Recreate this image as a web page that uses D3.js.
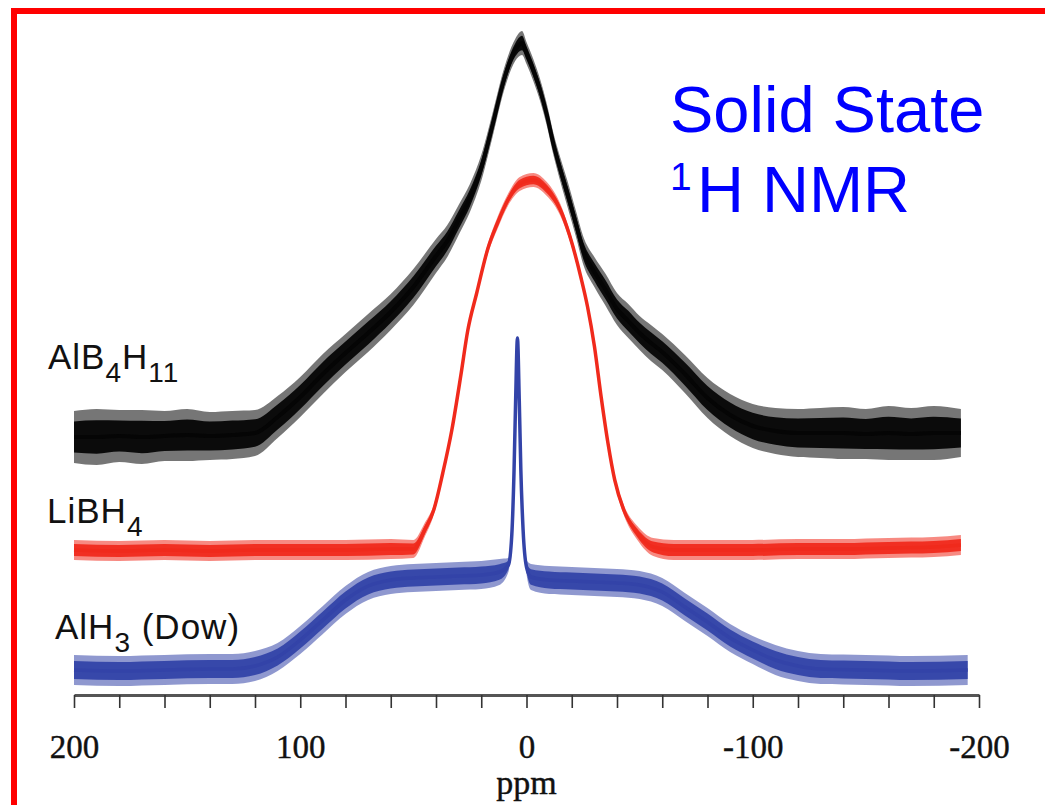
<!DOCTYPE html>
<html><head><meta charset="utf-8">
<script src="https://cdn.jsdelivr.net/npm/d3@7"></script>
<style>html,body{margin:0;padding:0;background:#fff;overflow:hidden}</style>
</head><body>
<svg id="chart" width="1045" height="805"></svg>
<script>
// ---------------- DATA ----------------
// chemical shift (ppm) grid points, intensity (stacked height above axis, a.u.), noise extent half-width (a.u.)
const seriesNames = ["AlB4H11", "LiBH4", "AlH3 (Dow)"];

const alb4h11Ppm = [200,190,180,170,160,150,140,130,120,110,100,90,80,70,60,50,40,35,30,25,20,15,10,5,2,0,-3,-6,-9,-12,-15,-18,-22,-25,-30,-35,-40,-45,-50,-55,-60,-70,-80,-90,-100,-110,-120,-130,-140,-150,-160,-170,-180,-192];
const alb4h11Int = [258,258,259,258,259,260,259,260,262,278,298,321,342,362,383,408,439,454,475,497,527,570,615,645,652,642,625,605,580,550,525,502,470,445,423,405,386,374,362,352,343,321,297,280,269,264,262,262,262,261,262,261,262,262];
const alb4h11Noise = [26,28,26,27,25,26,24,24,23,21,20,20,19,19,18,18,17,16,15,14,13,12,11,11,12,11,11,11,11,11,12,13,13,14,15,16,16,17,17,18,18,19,20,21,22,23,24,25,26,25,27,26,27,24];

const libh4Ppm = [200,180,160,140,120,100,80,60,50,45,41,37,33,29,26,22,17,13,8,3,-3,-9,-15,-19,-24,-27,-30,-33,-36,-39,-43,-49,-56,-65,-80,-100,-120,-140,-160,-180,-192];
const libh4Int = [145,144,145,144,145,145,145,146,146,165,185,222,265,320,364,402,447,471,496,511,515,506,485,460,418,388,349,298,252,215,185,162,148,145,145,145,146,146,147,148,150];
const libh4Noise = [10,10,10,10,10,10,10,10,9,7,5,4,4,4,4,4,5,6,6,7,7,7,6,5,4,4,4,4,4,4,5,7,9,10,10,10,10,10,10,10,10];

const alh3Ppm = [200,180,160,140,130,120,110,100,90,80,70,60,50,40,30,20,12,8,6.5,5.5,4.8,4,3.2,2.5,1.5,0,-2,-10,-20,-30,-40,-50,-60,-70,-80,-90,-100,-110,-120,-130,-150,-170,-195];
const alh3Int = [25,24,25,26,26,29,38,55,75,95,109,115,117,118,119,120,123,130,160,225,295,357,295,225,165,128,118,115,114,113,112,110,103,88,73,57,45,35,29,26,25,24,25];
const alh3Noise = [15,15,15,15,15,15,14,14,14,14,14,14,14,14,14,14,13,7,3,2,2,2,2,2,3,7,13,14,14,14,14,14,14,14,14,14,14,15,15,15,15,15,15];

const xDomain = [200, -200];
const xTickValues = [200,180,160,140,120,100,80,60,40,20,0,-20,-40,-60,-80,-100,-120,-140,-160,-180,-200];
const xTickLabels = {"200":"200","100":"100","0":"0","-100":"-100","-200":"-200"};
const xAxisTitle = "ppm";
const titleLine1 = "Solid State";
const titleSup = "1";
const titleLine2 = "H NMR";

// ---------------- LAYOUT ----------------
const svg = d3.select("#chart");
const W = 1045, H = 805;
const plot = {left: 74, right: 979, axisY: 695, top: 35};

const x = d3.scaleLinear().domain(xDomain).range([plot.left, plot.right]);
const y = d3.scaleLinear().domain([0, 660]).range([plot.axisY, plot.top]);

svg.append("rect").attr("width", W).attr("height", H).attr("fill", "#fff");

// red frame
svg.append("rect").attr("x", 14).attr("y", 11).attr("width", 1200).attr("height", 1000)
  .attr("fill", "none").attr("stroke", "#ff0000").attr("stroke-width", 6);

function series(ppm, inten, noise) {
  return ppm.map((p, i) => ({p, v: inten[i], n: noise[i]}));
}
const data = [
  {key: seriesNames[0], vals: series(alb4h11Ppm, alb4h11Int, alb4h11Noise), color: "#050505", lw: 4},
  {key: seriesNames[1], vals: series(libh4Ppm, libh4Int, libh4Noise), color: "#f02a1c", lw: 3.5},
  {key: seriesNames[2], vals: series(alh3Ppm, alh3Int, alh3Noise), color: "#3343a8", lw: 3.5}
];

const outer = d3.area().x(d => x(d.p)).y0(d => y(d.v - d.n)).y1(d => y(d.v + d.n)).curve(d3.curveMonotoneX);
const inner = d3.area().x(d => x(d.p)).y0(d => y(d.v - 0.6 * d.n)).y1(d => y(d.v + 0.6 * d.n)).curve(d3.curveMonotoneX);
const line = d3.line().x(d => x(d.p)).y(d => y(d.v)).curve(d3.curveMonotoneX);

const order = [2, 1, 0];
order.forEach(i => {
  const s = data[i];
  const vals = s.vals.slice().sort((a, b) => b.p - a.p);
  svg.append("path").datum(vals).attr("d", outer).attr("fill", s.color).attr("opacity", 0.55);
  svg.append("path").datum(vals).attr("d", inner).attr("fill", s.color).attr("opacity", 0.95);
  svg.append("path").datum(vals).attr("d", line).attr("fill", "none")
    .attr("stroke", s.color).attr("stroke-width", s.lw).attr("stroke-linejoin", "round");
});

// axis
const axis = d3.axisBottom(x).tickValues(xTickValues).tickSize(13).tickSizeOuter(0).tickPadding(27)
  .tickFormat(d => xTickLabels[String(d)] || "");
const gAx = svg.append("g").attr("transform", `translate(0,${plot.axisY})`).call(axis);
gAx.select(".domain").attr("stroke", "#555").attr("stroke-width", 3);
gAx.selectAll(".tick line").attr("stroke", "#333").attr("stroke-width", 1.6);
gAx.selectAll(".tick text").attr("font-family", "'Liberation Serif', 'Times New Roman', serif")
  .attr("font-size", 33).attr("fill", "#111").attr("stroke", "#111").attr("stroke-width", 0.4);

svg.append("text").attr("x", (plot.left + plot.right) / 2).attr("y", 794).attr("text-anchor", "middle")
  .attr("font-family", "'Liberation Serif', 'Times New Roman', serif").attr("font-size", 34).attr("fill", "#111")
  .attr("stroke", "#111").attr("stroke-width", 0.4)
  .text(xAxisTitle);

// series labels
const sans = "'Liberation Sans', Arial, Helvetica, sans-serif";
function label(xp, yp, parts) {
  const t = svg.append("text").attr("x", xp).attr("y", yp).attr("font-family", sans)
    .attr("font-size", 35).attr("fill", "#111").attr("letter-spacing", 1);
  let shift = 0;
  parts.forEach(([txt, sub]) => {
    const want = sub ? 13 : 0;
    t.append("tspan").attr("dy", want - shift).attr("font-size", sub ? 28 : 35).text(txt);
    shift = want;
  });
}
label(48, 369, [["AlB", 0], ["4", 1], ["H", 0], ["11", 1]]);
label(47, 523, [["LiBH", 0], ["4", 1]]);
label(55, 639, [["AlH", 0], ["3", 1], [" (Dow)", 0]]);

// title
svg.append("text").attr("x", 670).attr("y", 132).attr("font-family", sans).attr("font-size", 65)
  .attr("fill", "#0000ff").text(titleLine1);
svg.append("text").attr("x", 670).attr("y", 190).attr("font-family", sans).attr("font-size", 39)
  .attr("fill", "#0000ff").text(titleSup);
svg.append("text").attr("x", 697).attr("y", 212).attr("font-family", sans).attr("font-size", 65)
  .attr("fill", "#0000ff").text(titleLine2);
</script>
</body></html>
